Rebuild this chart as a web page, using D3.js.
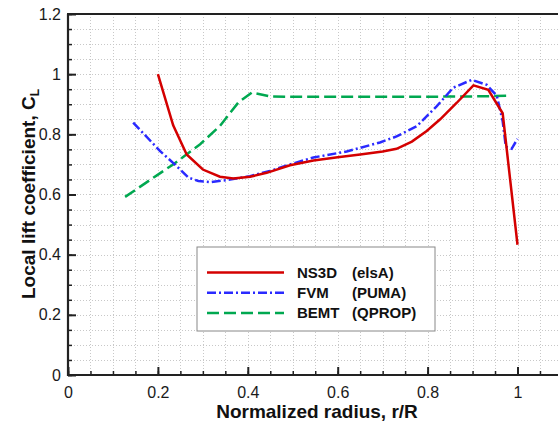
<!DOCTYPE html>
<html>
<head>
<meta charset="utf-8">
<script src="https://cdn.jsdelivr.net/npm/d3@7"></script>
<style>
  body { margin: 0; background: #fff; }
  svg { font-family: "Liberation Sans", Arial, sans-serif; display: block; }
</style>
</head>
<body>
<div id="chart"></div>
<script>
// NS3D (elsA)
const radiusNS3D = [0.2, 0.234, 0.264, 0.3, 0.338, 0.368, 0.405, 0.442, 0.494, 0.546, 0.6, 0.65, 0.7, 0.731, 0.765, 0.798, 0.828, 0.865, 0.902, 0.935, 0.967, 1.0];
const clNS3D = [1.0, 0.83, 0.733, 0.683, 0.659, 0.653, 0.659, 0.672, 0.697, 0.713, 0.724, 0.733, 0.743, 0.752, 0.776, 0.811, 0.85, 0.905, 0.963, 0.948, 0.87, 0.433];

// FVM (PUMA)
const radiusFVM = [0.145, 0.205, 0.242, 0.268, 0.29, 0.316, 0.353, 0.405, 0.449, 0.494, 0.546, 0.62, 0.694, 0.731, 0.776, 0.82, 0.857, 0.898, 0.931, 0.954, 0.967, 0.974, 0.987, 1.0];
const clFVM = [0.839, 0.744, 0.694, 0.656, 0.645, 0.641, 0.648, 0.661, 0.678, 0.7, 0.723, 0.743, 0.773, 0.793, 0.827, 0.893, 0.955, 0.981, 0.965, 0.928, 0.844, 0.759, 0.752, 0.785];

// BEMT (QPROP)
const radiusBEMT = [0.127, 0.201, 0.234, 0.294, 0.338, 0.379, 0.409, 0.449, 0.5, 0.6, 0.7, 0.8, 0.9, 0.98];
const clBEMT = [0.592, 0.667, 0.7, 0.767, 0.828, 0.906, 0.939, 0.926, 0.925, 0.925, 0.925, 0.925, 0.926, 0.928];

const xTicks = [0, 0.2, 0.4, 0.6, 0.8, 1];
const xTickLabels = ["0", "0.2", "0.4", "0.6", "0.8", "1"];
const yTicks = [0, 0.2, 0.4, 0.6, 0.8, 1, 1.2];
const yTickLabels = ["0", "0.2", "0.4", "0.6", "0.8", "1", "1.2"];

const legendNames = ["NS3D", "FVM", "BEMT"];
const legendCodes = ["(elsA)", "(PUMA)", "(QPROP)"];

const width = 558;
const height = 424;

const x = d3.scaleLinear().domain([0, 1.2]).range([68, 607.4]);
const y = d3.scaleLinear().domain([0, 1.2]).range([375, 14]);

const svg = d3.select("#chart")
  .append("svg")
  .attr("width", width)
  .attr("height", height);

// dotted grid every 0.05
const gridX = d3.range(0.05, 1.21, 0.05);
const gridY = d3.range(0.05, 1.19, 0.05);
const grid = svg.append("g")
  .attr("stroke", "#c8c8c8")
  .attr("stroke-width", 1)
  .attr("stroke-dasharray", "1,2");
grid.selectAll("line.gx")
  .data(gridX)
  .join("line")
  .attr("class", "gx")
  .attr("x1", d => Math.round(x(d)) + 0.5)
  .attr("x2", d => Math.round(x(d)) + 0.5)
  .attr("y1", y(1.2))
  .attr("y2", y(0));
grid.selectAll("line.gy")
  .data(gridY)
  .join("line")
  .attr("class", "gy")
  .attr("y1", d => Math.round(y(d)) + 0.5)
  .attr("y2", d => Math.round(y(d)) + 0.5)
  .attr("x1", x(0))
  .attr("x2", width);

// curves
const series = [
  { r: radiusNS3D, cl: clNS3D, color: "#d40000", dash: null },
  { r: radiusFVM, cl: clFVM, color: "#2a2aff", dash: "9,3,2,3" },
  { r: radiusBEMT, cl: clBEMT, color: "#00a850", dash: "12,5" }
];

const line = d3.line()
  .x(d => x(d[0]))
  .y(d => y(d[1]));

// green first, then blue, red on top
[series[2], series[1], series[0]].forEach(s => {
  svg.append("path")
    .datum(s.r.map((v, i) => [v, s.cl[i]]))
    .attr("fill", "none")
    .attr("stroke", s.color)
    .attr("stroke-width", 2.5)
    .attr("stroke-dasharray", s.dash)
    .attr("d", line);
});

// axes: minor ticks (inward), major ticks with labels
const minorX = d3.range(0, 1.21, 0.05);
const minorY = d3.range(0, 1.21, 0.05);

svg.append("g")
  .attr("transform", `translate(0,${y(0)})`)
  .call(d3.axisBottom(x).tickValues(minorX).tickSize(-4).tickFormat(""))
  .call(g => g.select(".domain").remove())
  .call(g => g.selectAll("line").attr("stroke", "#222").attr("stroke-width", 1.5));

svg.append("g")
  .attr("transform", `translate(${x(0)},0)`)
  .call(d3.axisLeft(y).tickValues(minorY).tickSize(-4).tickFormat(""))
  .call(g => g.select(".domain").remove())
  .call(g => g.selectAll("line").attr("stroke", "#222").attr("stroke-width", 1.5));

svg.append("g")
  .attr("transform", `translate(0,${y(0)})`)
  .call(d3.axisBottom(x).tickValues(xTicks).tickSize(-8).tickPadding(12)
    .tickFormat((d, i) => xTickLabels[i]))
  .call(g => g.select(".domain").remove())
  .call(g => g.selectAll("line").attr("stroke", "#222").attr("stroke-width", 2))
  .call(g => g.selectAll("text")
    .attr("font-size", 16)
    .attr("fill", "#1a1a1a")
    .attr("font-family", "Liberation Sans, Arial, sans-serif"));

svg.append("g")
  .attr("transform", `translate(${x(0)},0)`)
  .call(d3.axisLeft(y).tickValues(yTicks).tickSize(-8).tickPadding(7)
    .tickFormat((d, i) => yTickLabels[i]))
  .call(g => g.select(".domain").remove())
  .call(g => g.selectAll("line").attr("stroke", "#222").attr("stroke-width", 2))
  .call(g => g.selectAll("text")
    .attr("font-size", 16)
    .attr("fill", "#1a1a1a")
    .attr("font-family", "Liberation Sans, Arial, sans-serif"));

// frame lines
const frame = svg.append("g").attr("stroke", "#222").attr("stroke-width", 2.2);
frame.append("line").attr("x1", x(0)).attr("x2", x(0)).attr("y1", y(1.2)).attr("y2", y(0) + 1);
frame.append("line").attr("x1", x(0) - 1).attr("x2", width).attr("y1", y(0)).attr("y2", y(0));
frame.append("line").attr("x1", x(0) - 1).attr("x2", width).attr("y1", y(1.2)).attr("y2", y(1.2));

// axis titles
svg.append("text")
  .attr("x", 317)
  .attr("y", 418)
  .attr("text-anchor", "middle")
  .attr("font-size", 19)
  .attr("font-weight", "bold")
  .attr("fill", "#111")
  .text("Normalized radius, r/R");

const yTitle = svg.append("text")
  .attr("transform", "translate(35,194) rotate(-90)")
  .attr("text-anchor", "middle")
  .attr("font-size", 19)
  .attr("font-weight", "bold")
  .attr("fill", "#111");
yTitle.append("tspan").text("Local lift coefficient, C");
yTitle.append("tspan").attr("font-size", 12).attr("dy", 4).text("L");

// legend
const legend = svg.append("g").attr("transform", "translate(197,247)");
legend.append("rect")
  .attr("width", 238)
  .attr("height", 84)
  .attr("fill", "#fff")
  .attr("stroke", "#888")
  .attr("stroke-width", 1);

const rows = legend.selectAll("g.row")
  .data(series)
  .join("g")
  .attr("class", "row")
  .attr("transform", (d, i) => `translate(0,${25.5 + i * 20.2})`);

rows.append("line")
  .attr("x1", 10)
  .attr("x2", 87)
  .attr("stroke", d => d.color)
  .attr("stroke-width", 2.5)
  .attr("stroke-dasharray", d => d.dash);

rows.append("text")
  .attr("x", 100)
  .attr("dy", 5.5)
  .attr("font-size", 15)
  .attr("font-weight", "bold")
  .attr("fill", "#111")
  .text((d, i) => legendNames[i]);

rows.append("text")
  .attr("x", 155)
  .attr("dy", 5.5)
  .attr("font-size", 15)
  .attr("font-weight", "bold")
  .attr("fill", "#111")
  .text((d, i) => legendCodes[i]);
</script>
</body>
</html>
